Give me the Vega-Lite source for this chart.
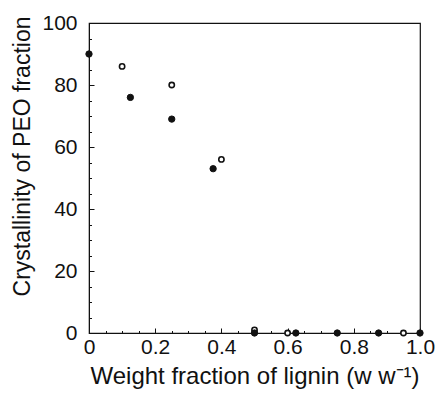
{
  "$schema": "https://vega.github.io/schema/vega-lite/v6.json",
  "width": 331,
  "height": 310,
  "autosize": {"type": "none"},
  "padding": {"left": 89, "top": 23, "right": 18, "bottom": 70},
  "config": {
    "font": "Liberation Sans",
    "view": {"stroke": "#111", "strokeWidth": 1.2},
    "axis": {"grid": false, "labelFlush": false, "labelOverlap": false, "domainColor": "#111", "tickColor": "#111", "labelColor": "#111", "titleColor": "#111", "titleFontWeight": "normal"}
  },
  "data": {
    "values": [
      {"series": "open", "lignin": 0.1, "cryst": 86},
      {"series": "open", "lignin": 0.25, "cryst": 80},
      {"series": "open", "lignin": 0.4, "cryst": 56},
      {"series": "open", "lignin": 0.5, "cryst": 1},
      {"series": "open", "lignin": 0.6, "cryst": 0},
      {"series": "open", "lignin": 0.95, "cryst": 0},
      {"series": "filled", "lignin": 0.0, "cryst": 90},
      {"series": "filled", "lignin": 0.125, "cryst": 76},
      {"series": "filled", "lignin": 0.25, "cryst": 69},
      {"series": "filled", "lignin": 0.375, "cryst": 53},
      {"series": "filled", "lignin": 0.5, "cryst": 0},
      {"series": "filled", "lignin": 0.625, "cryst": 0},
      {"series": "filled", "lignin": 0.75, "cryst": 0},
      {"series": "filled", "lignin": 0.875, "cryst": 0},
      {"series": "filled", "lignin": 1.0, "cryst": 0}
    ]
  },
  "layer": [
    {
      "mark": {"type": "point", "opacity": 0},
      "encoding": {
        "x": {"field": "lignin", "type": "quantitative", "scale": {"domain": [0, 1], "nice": false, "zero": false},
          "axis": {"orient": "bottom", "values": [0.05, 0.1, 0.15, 0.25, 0.3, 0.35, 0.45, 0.5, 0.55, 0.65, 0.7, 0.75, 0.85, 0.9, 0.95], "labels": false, "domain": false, "tickSize": -2.5, "title": null}},
        "y": {"field": "cryst", "type": "quantitative", "scale": {"domain": [0, 100], "nice": false},
          "axis": {"orient": "left", "values": [5, 10, 15, 25, 30, 35, 45, 50, 55, 65, 70, 75, 85, 90, 95], "labels": false, "domain": false, "tickSize": -2.5, "title": null}}
      }
    },
    {
      "mark": {"type": "point", "shape": "circle", "stroke": "#111", "opacity": 1},
      "encoding": {
        "x": {"field": "lignin", "type": "quantitative",
          "axis": {"orient": "bottom", "values": [0, 0.2, 0.4, 0.6, 0.8, 1.0], "labelExpr": "datum.value == 0 ? '0' : format(datum.value, '.1f')", "tickSize": -5, "labelPadding": 8, "labelFontSize": 21, "title": "Weight fraction of lignin (w w⁻¹)", "titleFontSize": 24, "titlePadding": 7}},
        "y": {"field": "cryst", "type": "quantitative",
          "axis": {"orient": "left", "values": [0, 20, 40, 60, 80, 100], "tickSize": -5, "labelPadding": 17, "labelFontSize": 21, "title": "Crystallinity of PEO fraction", "titleFontSize": 23, "titleX": -60, "titleY": 133, "titleAngle": -90, "titleAlign": "center", "titleBaseline": "alphabetic"}},
        "fill": {"field": "series", "type": "nominal", "scale": {"domain": ["filled", "open"], "range": ["#111", "#ffffff"]}, "legend": null},
        "size": {"field": "series", "type": "nominal", "scale": {"domain": ["filled", "open"], "range": [40, 28]}, "legend": null},
        "strokeWidth": {"field": "series", "type": "nominal", "scale": {"domain": ["filled", "open"], "range": [1, 1.6]}, "legend": null}
      }
    }
  ],
  "resolve": {"axis": {"x": "independent", "y": "independent"}}
}
